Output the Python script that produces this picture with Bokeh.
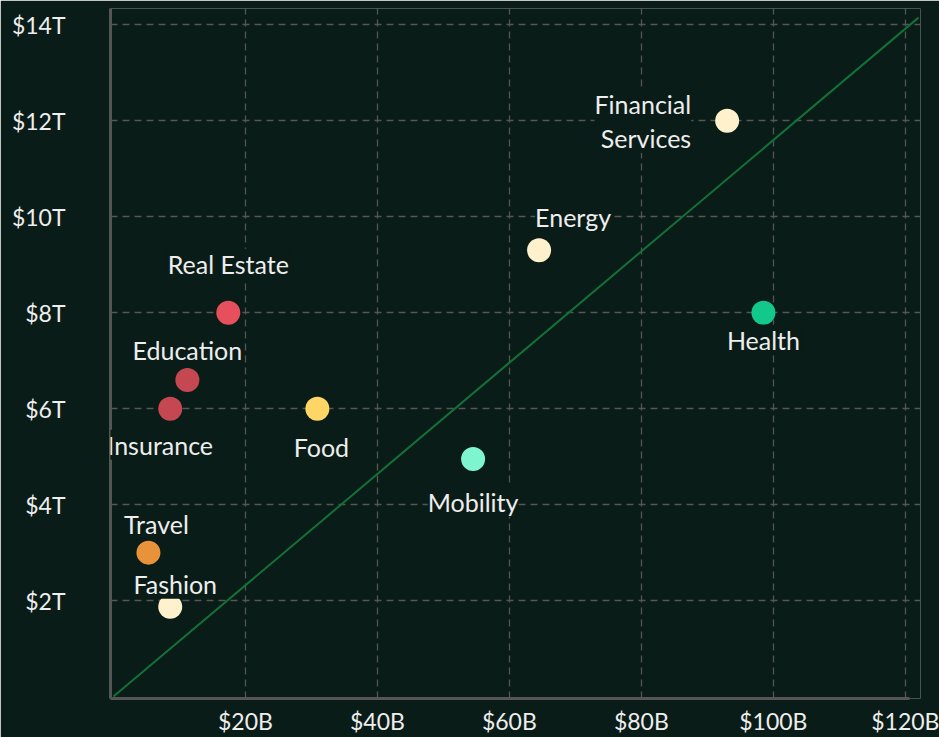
from bokeh.plotting import figure
from bokeh.models import ColumnDataSource, LabelSet, Label, FixedTicker, CustomJSTickFormatter
from bokeh.core.properties import value
from bokeh.embed import file_html
from bokeh.resources import INLINE

# ---- data ----
sectors = ["Financial Services", "Energy", "Real Estate", "Health", "Education",
           "Insurance", "Food", "Mobility", "Travel", "Fashion"]
market_b = [93.0, 64.5, 17.4, 98.5, 11.2, 8.6, 30.9, 54.5, 5.3, 8.6]      # x, $B
size_t = [12.0, 9.3, 8.0, 8.0, 6.6, 6.0, 6.0, 4.95, 3.0, 1.87]            # y, $T
colors = ["#fff1cc", "#fff1cc", "#e5505c", "#12c98b", "#c44751",
          "#c44751", "#ffd566", "#7ef5cf", "#e8923a", "#fff1cc"]
x_ticks = [20, 40, 60, 80, 100, 120]
y_ticks = [2, 4, 6, 8, 10, 12, 14]
diag_x = [0, 122]
diag_y = [0, 14.15]

# label placement (screen px offsets)
lab_dx = [0, 34, 0, 0, 0, -10, 4, 0, 8, 5]
lab_dy = [0, 33, 49, -27, 30, -36, -38, -43, 29, 23]

BG = "#0a1c17"
FONT = "Lato"
TXT = "#eeeeee"

p = figure(width=939, height=737, output_backend="svg", toolbar_location=None,
           x_range=(-0.45, 122.3), y_range=(-0.04, 14.34),
           background_fill_color=BG, border_fill_color=BG,
           min_border_left=110, min_border_right=19, min_border_top=8, min_border_bottom=38)
p.outline_line_color = None

# grid
for g in (p.xgrid, p.ygrid):
    g.grid_line_color = "#555555"
    g.grid_line_width = 1.3
    g.grid_line_dash = "7 5"
p.xgrid.ticker = FixedTicker(ticks=x_ticks)
p.ygrid.ticker = FixedTicker(ticks=y_ticks)

# axes
p.xaxis.ticker = FixedTicker(ticks=x_ticks)
p.yaxis.ticker = FixedTicker(ticks=y_ticks)
p.xaxis.formatter = CustomJSTickFormatter(code="return '$' + tick + 'B';")
p.yaxis.formatter = CustomJSTickFormatter(code="return '$' + tick + 'T';")
p.xaxis.bounds = (-0.45, 120.6)
for ax in (p.xaxis, p.yaxis):
    ax.axis_line_color = "#555555"
    ax.axis_line_width = 3
    ax.major_tick_line_color = None
    ax.minor_tick_line_color = None
    ax.major_label_text_color = TXT
    ax.major_label_text_font = FONT
    ax.major_label_text_font_size = "23px"
p.yaxis.major_label_standoff = 39
p.xaxis.major_label_standoff = 2

# diagonal
p.line(diag_x, diag_y, line_color="#137038", line_width=2)

src = ColumnDataSource(dict(x=market_b, y=size_t, c=colors))
p.scatter("x", "y", source=src, size=24, fill_color="c", line_color=None)

# labels (all except the multi-line one)
idx = list(range(1, len(sectors)))
src2 = ColumnDataSource(dict(x=[market_b[i] for i in idx], y=[size_t[i] for i in idx],
                             name=[sectors[i] for i in idx],
                             dx=[lab_dx[i] for i in idx], dy=[lab_dy[i] for i in idx]))
labels = LabelSet(x="x", y="y", text="name", x_offset="dx", y_offset="dy", source=src2,
                  text_align="center", text_baseline="middle",
                  text_color=TXT, text_font=value(FONT), text_font_size="25px",
                  background_fill_color=BG)
p.add_layout(labels)

fs = Label(x=market_b[0], y=size_t[0], x_offset=-36, y_offset=0,
           text="Financial\nServices", text_align="right", text_baseline="middle",
           text_color=TXT, text_font=FONT, text_font_size="25px",
           text_line_height=1.15, background_fill_color=BG)
p.add_layout(fs)

open("out.html", "w").write(file_html(p, INLINE))
